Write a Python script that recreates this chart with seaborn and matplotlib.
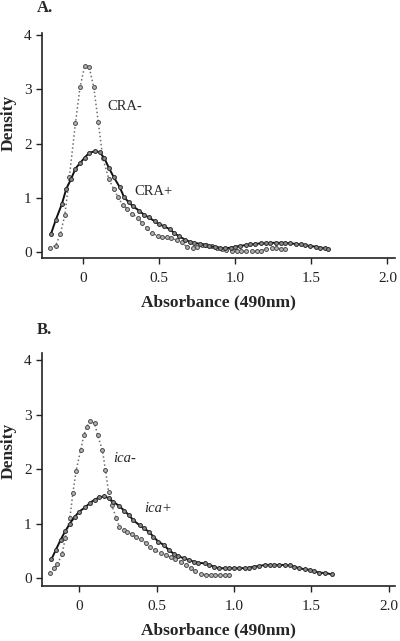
import numpy as np
import pandas as pd
import matplotlib
matplotlib.use('Agg')
import matplotlib.pyplot as plt
import seaborn as sns

# Panel A: CRA- / CRA+ density curves
cra_neg_x = [-0.22, -0.18, -0.15, -0.12, -0.09, -0.05, -0.02, 0.01, 0.04, 0.07,
             0.10, 0.13, 0.17, 0.20, 0.23, 0.26, 0.29, 0.32, 0.36, 0.39,
             0.42, 0.45, 0.49, 0.52, 0.55, 0.58, 0.62, 0.65, 0.68, 0.72,
             0.75, 0.78, 0.81, 0.85, 0.88, 0.91, 0.94, 0.98, 1.01, 1.04,
             1.07, 1.11, 1.14, 1.17, 1.20, 1.24, 1.27, 1.30, 1.33]
cra_neg_y = [0.07, 0.12, 0.33, 0.68, 1.39, 2.38, 3.04, 3.43, 3.41, 3.04,
             2.40, 1.73, 1.34, 1.17, 1.01, 0.87, 0.80, 0.71, 0.63, 0.53,
             0.44, 0.35, 0.30, 0.28, 0.28, 0.25, 0.22, 0.18, 0.10, 0.07,
             0.09, 0.13, 0.13, 0.12, 0.08, 0.05, 0.03, 0.02, 0.01, 0.01,
             0.01, 0.01, 0.01, 0.02, 0.05, 0.07, 0.07, 0.06, 0.05]
cra_pos_x = [-0.21, -0.18, -0.14, -0.11, -0.08, -0.05, -0.02, 0.01, 0.04, 0.08,
             0.11, 0.14, 0.17, 0.20, 0.24, 0.27, 0.30, 0.33, 0.37, 0.40,
             0.43, 0.47, 0.50, 0.53, 0.57, 0.60, 0.63, 0.67, 0.70, 0.73,
             0.77, 0.80, 0.83, 0.87, 0.90, 0.93, 0.97, 1.00, 1.03, 1.07,
             1.10, 1.13, 1.17, 1.20, 1.23, 1.27, 1.30, 1.33, 1.36, 1.40,
             1.43, 1.46, 1.49, 1.53, 1.56, 1.59, 1.61]
cra_pos_y = [0.34, 0.59, 0.88, 1.17, 1.34, 1.54, 1.64, 1.74, 1.83, 1.86,
             1.84, 1.73, 1.55, 1.39, 1.20, 1.01, 0.92, 0.84, 0.76, 0.69,
             0.64, 0.57, 0.51, 0.48, 0.42, 0.35, 0.29, 0.23, 0.19, 0.17,
             0.15, 0.13, 0.11, 0.09, 0.07, 0.07, 0.08, 0.10, 0.11, 0.13,
             0.14, 0.15, 0.16, 0.16, 0.17, 0.17, 0.17, 0.17, 0.16, 0.15,
             0.14, 0.13, 0.11, 0.10, 0.08, 0.07, 0.06]

# Panel B: ica- / ica+ density curves
ica_neg_x = [-0.19, -0.16, -0.14, -0.11, -0.09, -0.06, -0.04, -0.02, 0.01, 0.03,
             0.05, 0.07, 0.10, 0.12, 0.15, 0.17, 0.19, 0.21, 0.24, 0.26,
             0.29, 0.31, 0.34, 0.37, 0.40, 0.43, 0.46, 0.49, 0.53, 0.56,
             0.59, 0.62, 0.66, 0.69, 0.72, 0.75, 0.79, 0.82, 0.85, 0.88,
             0.91, 0.94, 0.97]
ica_neg_y = [0.09, 0.18, 0.26, 0.44, 0.73, 1.10, 1.57, 1.97, 2.35, 2.62,
             2.78, 2.88, 2.84, 2.62, 2.35, 1.98, 1.58, 1.34, 1.10, 0.94,
             0.89, 0.85, 0.80, 0.76, 0.71, 0.64, 0.57, 0.51, 0.46, 0.42,
             0.38, 0.34, 0.30, 0.24, 0.18, 0.12, 0.07, 0.06, 0.06, 0.06,
             0.06, 0.06, 0.06]
ica_pos_x = [-0.18, -0.15, -0.12, -0.09, -0.06, -0.03, 0.00, 0.04, 0.07, 0.10,
             0.13, 0.16, 0.19, 0.22, 0.26, 0.29, 0.32, 0.35, 0.39, 0.42,
             0.45, 0.48, 0.51, 0.55, 0.58, 0.61, 0.64, 0.68, 0.71, 0.74,
             0.77, 0.81, 0.84, 0.87, 0.90, 0.94, 0.97, 1.00, 1.03, 1.07,
             1.10, 1.13, 1.16, 1.20, 1.23, 1.26, 1.29, 1.33, 1.36, 1.39,
             1.42, 1.46, 1.49, 1.52, 1.55, 1.59, 1.63]
ica_pos_y = [0.34, 0.52, 0.70, 0.86, 1.00, 1.12, 1.22, 1.30, 1.38, 1.44,
             1.48, 1.50, 1.47, 1.40, 1.32, 1.24, 1.16, 1.06, 0.97, 0.91,
             0.85, 0.76, 0.67, 0.60, 0.51, 0.45, 0.40, 0.36, 0.33, 0.30,
             0.28, 0.27, 0.24, 0.21, 0.18, 0.18, 0.18, 0.18, 0.18, 0.18,
             0.19, 0.21, 0.22, 0.24, 0.24, 0.24, 0.24, 0.24, 0.23, 0.21,
             0.18, 0.16, 0.15, 0.12, 0.10, 0.09, 0.07]

xticks = [0, 0.5, 1.0, 1.5, 2.0]
xtick_labels = ['0', '0.5', '1.0', '1.5', '2.0']
yticks = [0, 1, 2, 3, 4]

sns.set_style('ticks')
plt.rcParams['font.family'] = ['Liberation Serif', 'DejaVu Serif']

fig = plt.figure(figsize=(4.0, 6.41), dpi=100)
ax_a = fig.add_axes([0.105, 0.5975, 0.8825, 0.351])
ax_b = fig.add_axes([0.105, 0.0858, 0.8825, 0.3632])


def draw_panel(ax, neg_x, neg_y, pos_x, pos_y, xlim, ylim, ylab_y):
    neg = pd.DataFrame({'x': neg_x, 'y': neg_y})
    pos = pd.DataFrame({'x': pos_x, 'y': pos_y})
    # dotted grey curve
    sns.lineplot(data=neg, x='x', y='y', ax=ax, color='#6e6e6e', linestyle=':',
                 linewidth=1.1, marker='o', markersize=2.8,
                 markerfacecolor='#b5b5b5', markeredgecolor='#4a4a4a',
                 markeredgewidth=0.7, estimator=None, sort=False)
    # solid black curve
    sns.lineplot(data=pos, x='x', y='y', ax=ax, color='#111111', linestyle='-',
                 linewidth=1.4, marker='o', markersize=2.8,
                 markerfacecolor='#8a8a8a', markeredgecolor='#2a2a2a',
                 markeredgewidth=0.7, estimator=None, sort=False)
    ax.set_xlim(*xlim)
    ax.set_ylim(*ylim)
    ax.set_xticks(xticks)
    ax.set_xticklabels(xtick_labels)
    ax.set_yticks(yticks)
    ax.tick_params(axis='both', direction='out', length=4, width=1,
                   labelsize=11, colors='#222222')
    ax.tick_params(axis='x', pad=6)
    for side in ['top', 'right']:
        ax.spines[side].set_visible(False)
    for side in ['left', 'bottom']:
        ax.spines[side].set_linewidth(1.2)
        ax.spines[side].set_color('#222222')
    ax.set_xlabel('Absorbance (490nm)', fontsize=12.5, fontweight='bold',
                  labelpad=7)
    ax.set_ylabel('Density', fontsize=12.5, fontweight='bold')
    ax.yaxis.set_label_coords(-0.072, ylab_y)


draw_panel(ax_a, cra_neg_x, cra_neg_y, cra_pos_x, cra_pos_y,
           (-0.27, 2.05), (-0.11, 4.04), 0.60)
draw_panel(ax_b, ica_neg_x, ica_neg_y, ica_pos_x, ica_pos_y,
           (-0.24, 2.04), (-0.147, 4.13), 0.58)

ax_a.text(0.16, 2.68, 'CRA-', fontsize=10.5, va='center', ha='left')
ax_a.text(0.34, 1.11, 'CRA+', fontsize=10.5, va='center', ha='left')
ax_b.text(0.22, 2.20, 'ica-', fontsize=10.5, style='italic', va='center', ha='left')
ax_b.text(0.42, 1.28, 'ica+', fontsize=10.5, style='italic', va='center', ha='left')

fig.text(37 / 400, 1 - 8 / 641, 'A.', fontsize=12, fontweight='bold', va='center', ha='left')
fig.text(37 / 400, 1 - 330 / 641, 'B.', fontsize=12, fontweight='bold', va='center', ha='left')

fig.savefig('out.png', dpi=100, facecolor='white')
